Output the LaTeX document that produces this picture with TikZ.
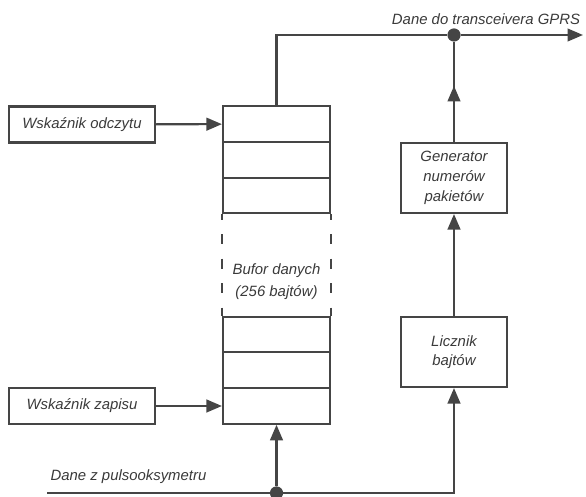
\documentclass[tikz,border=0pt]{standalone}
\usepackage{fontspec}
\setmainfont{Liberation Sans}
\usetikzlibrary{
  arrows.meta,
  decorations.markings
}

\definecolor{linegray}{HTML}{454545}
\definecolor{textgray}{HTML}{3A3A3A}

\tikzset{
  line/.style={draw=linegray, line width=1.5pt},
  conn/.style={line, -{Triangle[length=11pt,width=9pt]}},
  midarrow/.style={line, postaction={decorate}, decoration={markings,
      mark=at position 0.56 with {\arrow[linegray]{Triangle[length=11pt,width=9pt]}}}},
  cell/.style={line, minimum width=2.675cm, minimum height=0.8875cm, inner sep=0pt},
  box/.style={line, minimum width=2.65cm, minimum height=1.75cm, inner sep=2pt,
      align=center, text=textgray, font=\fontsize{10.6}{14}\selectfont\itshape},
  ptr/.style={box, minimum width=3.65cm, minimum height=0.9cm},
  dot/.style={circle, fill=linegray, inner sep=0pt, minimum size=0.33cm},
  lbl/.style={text=textgray, font=\fontsize{10.6}{15.6}\selectfont\itshape, align=center}
}

\begin{document}
\begin{tikzpicture}[x=0.025cm, y=-0.025cm]
  \useasboundingbox (0,0) rectangle (586,497);

  % buffer cells
  \foreach \n/\y in {c1/124, c2/160, c3/195.5, c4/334.5, c5/370, c6/406} {
      \node[cell] (\n) at (276.5,\y) {};
    }
  \draw[line, dash pattern=on 7.1pt off 10.3pt, dash phase=3.2pt]
  (c3.south west) -- (c4.north west);
  \draw[line, dash pattern=on 7.1pt off 10.3pt, dash phase=3.2pt]
  (c3.south east) -- (c4.north east);
  \node[lbl] (buf) at (276.5,282) {Bufor danych\\(256 bajtów)};

  \node[ptr] (rdptr) at (82,124.5) {Wskaźnik odczytu};
  \node[ptr] (wrptr) at (82,406) {Wskaźnik zapisu};
  \node[box] (gen) at (454,178) {Generator\\numerów\\pakietów};
  \node[box] (cnt) at (454,352) {Licznik\\bajtów};

  \coordinate (topY) at (0,35);
  \coordinate (outEnd) at (583,35);
  \coordinate (inStart) at (47,493);
  \node[dot] (dotT) at (gen.north |- topY) {};
  \node[dot] (dotB) at (c6.south |- inStart) {};

  \draw[conn] (rdptr) -- (c1);
  \draw[conn] (wrptr) -- (c6);
  \draw[line] (c1.north) |- (dotT);
  \draw[conn] (dotT) -- (outEnd);
  \draw[midarrow] (gen.north) -- (dotT);
  \draw[conn] (cnt.north) -- (gen.south);
  \draw[line] (inStart) -- (dotB);
  \draw[conn] (dotB) -| (cnt.south);
  \draw[conn] (dotB) -- (c6.south);

  \node[lbl, anchor=east] (outLbl) at (585,19) {Dane do transceivera GPRS};
  \node[lbl] (inLbl) at (128.5,477) {Dane z pulsooksymetru};
\end{tikzpicture}
\end{document}
